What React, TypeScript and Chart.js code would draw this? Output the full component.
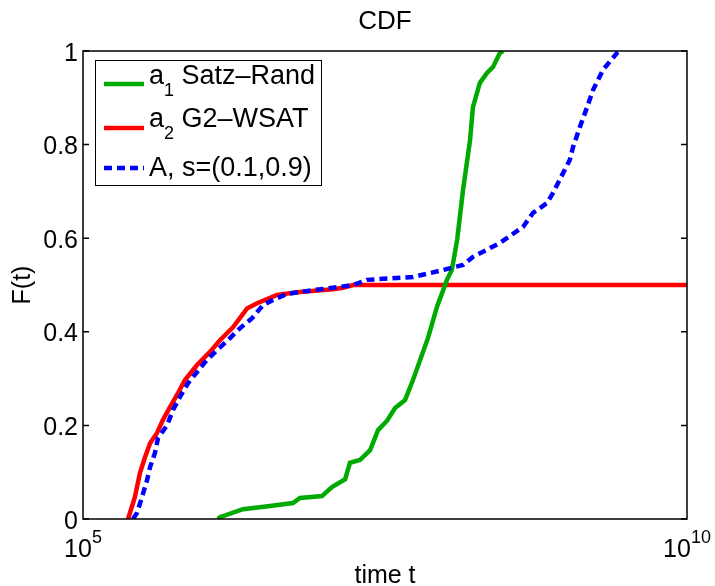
import React, { useEffect, useRef } from "react";
import { Chart, registerables } from "chart.js";

Chart.register(...registerables);

// ---- Data ----
const satzTimes = [1.31e6, 1.36e6, 2.11e6, 3.53e6, 5.47e6, 6.25e6, 9.51e6, 1.15e7, 1.48e7, 1.62e7, 1.96e7, 2.38e7, 2.77e7, 3.29e7, 3.83e7, 4.63e7, 5.39e7, 7.18e7, 8.51e7, 1.03e8, 1.13e8, 1.25e8, 1.4e8, 1.6e8, 1.69e8, 1.93e8, 2.21e8, 2.48e8, 2.83e8, 3.0e8];
const satzF = [0.0, 0.004, 0.021, 0.028, 0.034, 0.045, 0.049, 0.068, 0.085, 0.12, 0.126, 0.147, 0.19, 0.21, 0.237, 0.254, 0.297, 0.387, 0.453, 0.511, 0.532, 0.596, 0.703, 0.81, 0.88, 0.932, 0.953, 0.966, 0.996, 1.0];

const g2Times = [2.36e5, 2.69e5, 2.96e5, 3.26e5, 3.59e5, 4.1e5, 4.59e5, 5.25e5, 6.0e5, 6.98e5, 8.79e5, 1.125e6, 1.36e6, 1.75e6, 2.28e6, 2.76e6, 4.03e6, 6.25e6, 1.17e7, 1.42e7, 1.72e7, 1e10];
const g2F = [0.0, 0.047, 0.098, 0.132, 0.162, 0.184, 0.212, 0.239, 0.265, 0.297, 0.329, 0.357, 0.382, 0.41, 0.45, 0.461, 0.479, 0.485, 0.491, 0.494, 0.5, 0.5];

const algoTimes = [2.59e5, 2.8e5, 3.08e5, 3.39e5, 3.59e5, 3.94e5, 4.18e5, 4.96e5, 5.56e5, 6.35e5, 7.4e5, 8.79e5, 1.06e6, 1.29e6, 1.58e6, 2.0e6, 2.51e6, 3.09e6, 3.74e6, 4.89e6, 8.02e6, 1.17e7, 1.72e7, 2.24e7, 5.39e7, 9.55e7, 1.4e8, 1.69e8, 2.83e8, 4.39e8, 5.31e8, 6.93e8, 7.78e8, 9.42e8, 1.07e9, 1.14e9, 1.3e9, 1.49e9, 1.67e9, 2.02e9, 2.64e9, 2.79e9];
const algoF = [0.0, 0.013, 0.047, 0.083, 0.111, 0.141, 0.173, 0.2, 0.233, 0.261, 0.29, 0.314, 0.34, 0.361, 0.382, 0.408, 0.429, 0.457, 0.468, 0.481, 0.489, 0.494, 0.5, 0.511, 0.517, 0.532, 0.543, 0.56, 0.59, 0.624, 0.654, 0.675, 0.697, 0.739, 0.767, 0.795, 0.838, 0.88, 0.917, 0.96, 0.996, 1.0];

const yTicks = [0, 0.2, 0.4, 0.6, 0.8, 1];
const yTickLabels = ["0", "0.2", "0.4", "0.6", "0.8", "1"];
const xTicks = [1e5, 1e10];
const xTickExponents = ["5", "10"];

const legendMain = ["a", "a", "A, s=(0.1,0.9)"];
const legendSub = ["1", "2", ""];
const legendRest = [" Satz\u2013Rand", " G2\u2013WSAT", ""];

const titleText = "CDF";
const xLabel = "time t";
const yLabel = "F(t)";

const FONT = '"Liberation Sans", Arial, Helvetica, sans-serif';
const GREEN = "#00aa00";
const RED = "#ff0000";
const BLUE = "#0000ff";

function toPoints(xs: number[], ys: number[]) {
  return xs.map((x, i) => ({ x, y: ys[i] }));
}

const decorPlugin = {
  id: "matlabDecor",
  afterDraw(chart: any) {
    const ctx: CanvasRenderingContext2D = chart.ctx;
    const area = chart.chartArea;
    const xs = chart.scales.x;
    const ys = chart.scales.y;
    ctx.save();

    // axes box
    ctx.strokeStyle = "#000";
    ctx.lineWidth = 1.5;
    ctx.strokeRect(area.left, area.top, area.right - area.left, area.bottom - area.top);

    // y ticks (inward, both sides) and labels
    ctx.fillStyle = "#000";
    ctx.font = `25px ${FONT}`;
    ctx.textAlign = "right";
    ctx.textBaseline = "alphabetic";
    yTicks.forEach((v, i) => {
      const y = ys.getPixelForValue(v);
      ctx.beginPath();
      ctx.moveTo(area.left, y);
      ctx.lineTo(area.left + 6, y);
      ctx.moveTo(area.right, y);
      ctx.lineTo(area.right - 6, y);
      ctx.stroke();
      ctx.fillText(yTickLabels[i], 78, y + 9.5);
    });

    // x tick labels 10^n
    xTicks.forEach((v, i) => {
      const x = xs.getPixelForValue(v);
      ctx.font = `25px ${FONT}`;
      const wb = ctx.measureText("10").width;
      ctx.font = `18px ${FONT}`;
      const we = ctx.measureText(xTickExponents[i]).width;
      const start = x - (wb + we) / 2;
      ctx.textAlign = "left";
      ctx.font = `25px ${FONT}`;
      ctx.fillText("10", start, 557);
      ctx.font = `18px ${FONT}`;
      ctx.fillText(xTickExponents[i], start + wb, 543);
    });

    // title and axis labels
    const cx = (area.left + area.right) / 2;
    ctx.textAlign = "center";
    ctx.font = `26px ${FONT}`;
    ctx.fillText(titleText, cx, 29);
    ctx.font = `25px ${FONT}`;
    ctx.fillText(xLabel, cx, 583);
    ctx.save();
    ctx.translate(30, (area.top + area.bottom) / 2);
    ctx.rotate(-Math.PI / 2);
    ctx.fillText(yLabel, 0, 0);
    ctx.restore();

    // legend
    const lx = 95.5, ly = 60.5, lw = 226, lh = 125;
    ctx.fillStyle = "#fff";
    ctx.fillRect(lx, ly, lw, lh);
    ctx.strokeStyle = "#000";
    ctx.lineWidth = 1;
    ctx.strokeRect(lx, ly, lw, lh);
    const colors = [GREEN, RED, BLUE];
    const lineYs = [84, 128, 168];
    const baseYs = [84, 127, 176];
    for (let i = 0; i < 3; i++) {
      ctx.strokeStyle = colors[i];
      ctx.lineWidth = 4.5;
      ctx.setLineDash(i === 2 ? [8, 5] : []);
      ctx.beginPath();
      ctx.moveTo(104, lineYs[i]);
      ctx.lineTo(144, lineYs[i]);
      ctx.stroke();
      ctx.setLineDash([]);
      ctx.fillStyle = "#000";
      ctx.textAlign = "left";
      let x = 149;
      ctx.font = `27px ${FONT}`;
      ctx.fillText(legendMain[i], x, baseYs[i]);
      x += ctx.measureText(legendMain[i]).width;
      if (legendSub[i]) {
        ctx.font = `18px ${FONT}`;
        ctx.fillText(legendSub[i], x, baseYs[i] + 12);
        x += ctx.measureText(legendSub[i]).width;
      }
      if (legendRest[i]) {
        ctx.font = `27px ${FONT}`;
        ctx.fillText(legendRest[i], x, baseYs[i]);
      }
    }
    ctx.restore();
  },
};

export default function App() {
  const ref = useRef<HTMLCanvasElement | null>(null);
  useEffect(() => {
    if (!ref.current) return;
    const chart = new Chart(ref.current, {
      type: "line",
      data: {
        datasets: [
          {
            label: "a1 Satz-Rand",
            data: toPoints(satzTimes, satzF),
            borderColor: GREEN,
            borderWidth: 4.5,
            pointRadius: 0,
            tension: 0,
            fill: false,
            order: 1,
          },
          {
            label: "a2 G2-WSAT",
            data: toPoints(g2Times, g2F),
            borderColor: RED,
            borderWidth: 4.5,
            pointRadius: 0,
            tension: 0,
            fill: false,
            order: 2,
          },
          {
            label: "A, s=(0.1,0.9)",
            data: toPoints(algoTimes, algoF),
            borderColor: BLUE,
            borderWidth: 4.5,
            borderDash: [8, 5],
            pointRadius: 0,
            tension: 0,
            fill: false,
            order: 0,
          },
        ],
      },
      options: {
        animation: false,
        responsive: false,
        devicePixelRatio: 1,
        layout: { padding: { left: 0, right: 28, top: 51, bottom: 0 } },
        plugins: {
          legend: { display: false },
          title: { display: false },
          tooltip: { enabled: false },
        },
        scales: {
          x: {
            type: "logarithmic",
            min: 1e5,
            max: 1e10,
            grid: { display: false },
            border: { display: false },
            ticks: { display: false },
            afterFit: (s: any) => {
              s.height = 67;
            },
          },
          y: {
            type: "linear",
            min: 0,
            max: 1,
            grid: { display: false },
            border: { display: false },
            ticks: { display: false },
            afterFit: (s: any) => {
              s.width = 83;
            },
          },
        },
      },
      plugins: [decorPlugin],
    } as any);
    return () => chart.destroy();
  }, []);
  return (
    <div style={{ position: "fixed", left: 0, top: 0, width: 715, height: 586, background: "#fff" }}>
      <canvas ref={ref} width={715} height={586} style={{ width: 715, height: 586, display: "block" }} />
    </div>
  );
}
